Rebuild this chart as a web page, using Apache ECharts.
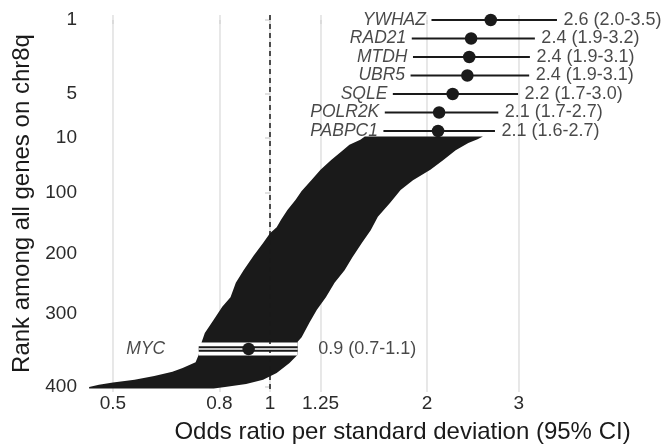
<!DOCTYPE html>
<html>
<head>
<meta charset="utf-8">
<script src="https://cdn.jsdelivr.net/npm/echarts@6/dist/echarts.min.js"></script>
<style>
  html, body { margin: 0; padding: 0; background: #fff; }
  #chart { width: 665px; height: 447px; }
</style>
</head>
<body>
<div id="chart"></div>
<script>
// top ranked genes (rank 1..7)
const topGenes = ['YWHAZ', 'RAD21', 'MTDH', 'UBR5', 'SQLE', 'POLR2K', 'PABPC1']
const topRank = [1, 2, 3, 4, 5, 6, 7]
const topOR = [2.65, 2.43, 2.41, 2.39, 2.24, 2.11, 2.10]
const topLower = [2.04, 1.87, 1.88, 1.86, 1.72, 1.66, 1.65]
const topUpper = [3.55, 3.22, 3.15, 3.14, 2.99, 2.74, 2.70]
const topText = ['2.6 (2.0-3.5)', '2.4 (1.9-3.2)', '2.4 (1.9-3.1)', '2.4 (1.9-3.1)',
                 '2.2 (1.7-3.0)', '2.1 (1.7-2.7)', '2.1 (1.6-2.7)']

// MYC
const mycGene = 'MYC'
const mycRank = 348
const mycOR = 0.91
const mycLower = 0.73
const mycUpper = 1.13
const mycText = '0.9 (0.7-1.1)'

// the rest of the genes (ranks 8..402), read as the envelope of their CIs
const rightRank = [8, 12, 18, 30, 46, 62, 79, 95, 116, 139, 161, 182, 205, 227, 248, 272, 293, 312, 332, 338, 356, 367, 381, 390, 396, 400, 402]
const rightOR = [2.56, 2.50, 2.40, 2.27, 2.15, 2.03, 1.88, 1.78, 1.70, 1.61, 1.56, 1.50, 1.44, 1.39, 1.33, 1.28, 1.23, 1.19, 1.15, 1.13, 1.13, 1.09, 1.03, 0.97, 0.90, 0.82, 0.78]
const leftRank = [8, 13, 21, 30, 46, 62, 79, 97, 111, 128, 144, 156, 166, 182, 203, 227, 248, 272, 288, 308, 326, 338, 356, 366, 374, 379, 385, 390, 394, 397, 400, 402]
const leftOR = [1.52, 1.49, 1.42, 1.38, 1.31, 1.25, 1.20, 1.15, 1.12, 1.08, 1.05, 1.03, 1.00, 0.97, 0.93, 0.89, 0.86, 0.84, 0.81, 0.78, 0.75, 0.74, 0.73, 0.72, 0.68, 0.65, 0.60, 0.55, 0.50, 0.47, 0.45, 0.45]

// axis ticks
const xTicks = [0.5, 0.8, 1, 1.25, 2, 3]
const xTickLabels = ['0.5', '0.8', '1', '1.25', '2', '3']
const rankTicks = [1, 5, 10, 100, 200, 300, 400]

// rank axis is stretched at the top: rank -> axis position
const rankAnchor = [1, 7, 8, 10, 100, 200, 300, 400, 410]
const posAnchor = [0, 6, 6.3, 6.38, 9.35, 12.65, 15.89, 19.84, 20.24]

const posOf = (r) => {
  for (let i = 0; i < rankAnchor.length - 1; i++) {
    if (r <= rankAnchor[i + 1]) {
      const t = (r - rankAnchor[i]) / (rankAnchor[i + 1] - rankAnchor[i])
      return posAnchor[i] + t * (posAnchor[i + 1] - posAnchor[i])
    }
  }
  return posAnchor[posAnchor.length - 1]
}
const ln = Math.log

const font = 'Liberation Sans, Arial, Helvetica, sans-serif'
const ink = '#1a1a1a'

const tickPos = rankTicks.map(posOf)
const xTickVals = xTicks.map(ln)

const nearest = (arr, v) => {
  let best = 0
  for (let i = 1; i < arr.length; i++) {
    if (Math.abs(arr[i] - v) < Math.abs(arr[best] - v)) best = i
  }
  return best
}

const ciRows = topGenes.map((g, i) => [ln(topLower[i]), ln(topUpper[i]), posOf(topRank[i])])
const pointRows = topGenes.map((g, i) => [ln(topOR[i]), posOf(topRank[i])])
pointRows.push([ln(mycOR), posOf(mycRank)])

const nameRows = topGenes.map((g, i) => ({ value: [ln(topLower[i]), posOf(topRank[i])], name: g }))
nameRows.push({ value: [ln(mycLower), posOf(mycRank)], name: mycGene, label: { distance: 33 } })
const textRows = topText.map((t, i) => ({ value: [ln(topUpper[i]), posOf(topRank[i])], name: t }))
textRows.push({ value: [ln(mycUpper), posOf(mycRank)], name: mycText, label: { distance: 20 } })

const mycRow = [[ln(mycLower), ln(mycUpper), posOf(mycRank)]]

const segment = (width, color) => (params, api) => {
  const a = api.coord([api.value(0), api.value(2)])
  const b = api.coord([api.value(1), api.value(2)])
  return {
    type: 'line',
    shape: { x1: a[0], y1: a[1], x2: b[0], y2: b[1] },
    style: { stroke: color, lineWidth: width }
  }
}

const chart = echarts.init(document.getElementById('chart'))
chart.setOption({
  animation: false,
  textStyle: { fontFamily: font },
  grid: { left: 89, width: 627, top: 15, height: 377, outerBoundsMode: 'none', containLabel: false },
  xAxis: {
    type: 'value',
    min: -0.799,
    max: 1.969,
    name: 'Odds ratio per standard deviation (95% CI)',
    nameLocation: 'middle',
    nameGap: 28,
    nameTextStyle: { fontSize: 24, color: ink, fontFamily: font, verticalAlign: 'top' },
    axisLine: { show: false },
    axisTick: { show: true, length: 4, customValues: xTickVals, lineStyle: { color: '#d6d6d6', width: 1.5 } },
    axisLabel: {
      customValues: xTickVals,
      margin: 2,
      fontSize: 19,
      color: '#2b2b2b',
      fontFamily: font,
      formatter: (v) => xTickLabels[nearest(xTickVals, v)]
    },
    splitLine: { show: true, lineStyle: { color: '#e2e2e2', width: 1.6 } }
  },
  yAxis: {
    type: 'value',
    inverse: true,
    min: -0.27,
    max: 20.11,
    name: 'Rank among all genes on chr8q',
    nameLocation: 'middle',
    nameGap: 54,
    nameTextStyle: { fontSize: 24, color: ink, fontFamily: font },
    axisLine: { show: false },
    axisTick: { show: true, length: 5, customValues: tickPos, lineStyle: { color: '#d6d6d6', width: 1.5 } },
    axisLabel: {
      customValues: tickPos,
      margin: 12,
      fontSize: 19,
      color: '#2b2b2b',
      fontFamily: font,
      formatter: (v) => String(rankTicks[nearest(tickPos, v)])
    },
    splitLine: { show: false }
  },
  series: [
    {
      // CI envelope of ranks 8..402
      type: 'custom',
      z: 2,
      clip: false,
      data: [0],
      renderItem: (params, api) => {
        const pts = []
        for (let i = 0; i < rightRank.length; i++) {
          pts.push(api.coord([ln(rightOR[i]), posOf(rightRank[i])]))
        }
        for (let i = leftRank.length - 1; i >= 0; i--) {
          pts.push(api.coord([ln(leftOR[i]), posOf(leftRank[i])]))
        }
        return { type: 'polygon', shape: { points: pts }, style: { fill: ink } }
      }
    },
    {
      // white band behind MYC
      type: 'custom',
      z: 3,
      encode: { x: [0, 1], y: 2 },
      data: mycRow,
      renderItem: segment(13, '#ffffff')
    },
    {
      type: 'custom',
      z: 5,
      encode: { x: [0, 1], y: 2 },
      data: mycRow,
      renderItem: segment(5.6, ink)
    },
    {
      type: 'custom',
      z: 5,
      encode: { x: [0, 1], y: 2 },
      data: mycRow,
      renderItem: segment(1.7, '#ffffff')
    },
    {
      type: 'custom',
      z: 5,
      encode: { x: [0, 1], y: 2 },
      data: ciRows,
      renderItem: segment(1.8, ink)
    },
    {
      // reference line at OR = 1
      type: 'scatter',
      z: 4,
      data: [],
      markLine: {
        silent: true,
        symbol: 'none',
        label: { show: false },
        lineStyle: { color: ink, width: 1.5, type: [5, 4] },
        data: [{ xAxis: 0 }]
      }
    },
    {
      type: 'scatter',
      z: 6,
      symbolSize: 12.5,
      itemStyle: { color: ink, opacity: 1 },
      data: pointRows
    },
    {
      type: 'scatter',
      z: 6,
      symbolSize: 1,
      itemStyle: { color: 'rgba(0,0,0,0)' },
      data: nameRows,
      label: {
        show: true,
        position: 'left',
        distance: 5,
        formatter: '{b}',
        fontSize: 17.5,
        fontStyle: 'italic',
        color: ink,
        fontFamily: font
      }
    },
    {
      type: 'scatter',
      z: 6,
      symbolSize: 1,
      itemStyle: { color: 'rgba(0,0,0,0)' },
      data: textRows,
      label: {
        show: true,
        position: 'right',
        distance: 6,
        formatter: '{b}',
        fontSize: 18,
        color: ink,
        fontFamily: font
      }
    }
  ]
})
</script>
</body>
</html>
